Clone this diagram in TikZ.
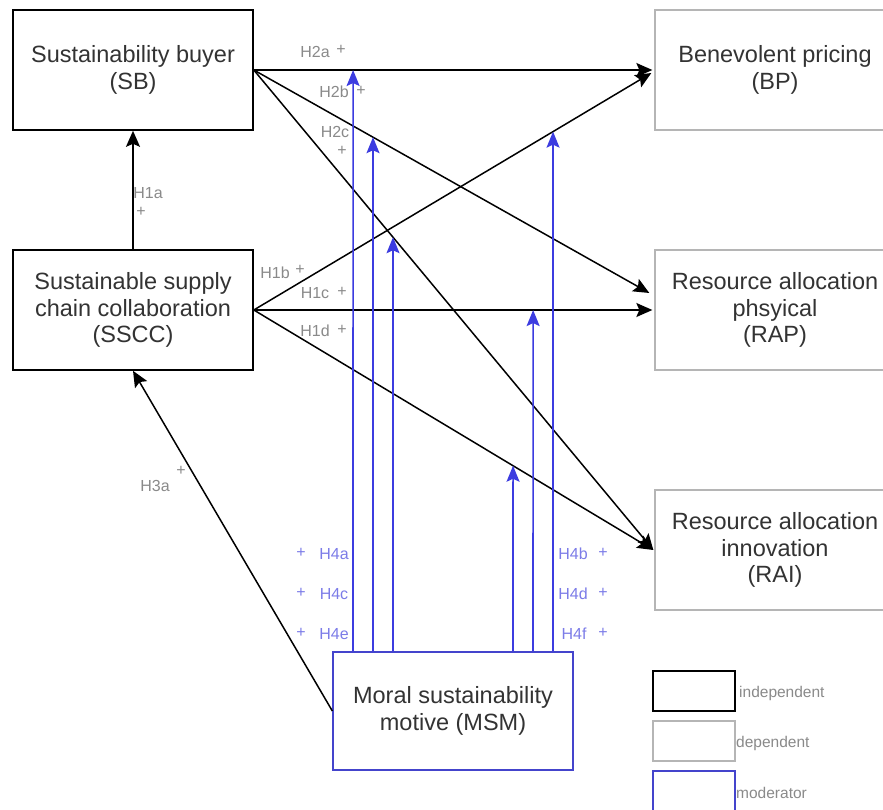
\documentclass[tikz,border=0pt]{standalone}
\usepackage{fontspec}
\setmainfont{Liberation Sans}
\usetikzlibrary{arrows.meta,calc}
\definecolor{txt}{HTML}{333333}
\definecolor{lblgray}{HTML}{8A8A8A}
\definecolor{depgray}{HTML}{B5B5B5}
\definecolor{modblue}{HTML}{3C3CE0}
\definecolor{boxblue}{HTML}{4444CC}
\definecolor{lblblue}{HTML}{7C7CE8}
\tikzset{
  box/.style={rectangle, minimum width=240pt, minimum height=120pt, align=center,
    font=\fontsize{23.5}{26.5}\selectfont, text=txt, inner sep=0pt},
  indep/.style={box, draw=black, line width=1.6pt},
  dep/.style={box, draw=depgray, line width=1.3pt},
  modbox/.style={box, draw=boxblue, line width=1.3pt, minimum height=118pt},
  arr/.style={draw=black, line width=1.5pt, -{Stealth[length=16pt,width=14pt,inset=3pt]}},
  barr/.style={draw=modblue, line width=1.6pt, -{Stealth[length=16pt,width=13pt,inset=3pt]}},
  lbl/.style={font=\fontsize{16}{18}\selectfont, text=lblgray, inner sep=0pt},
  pl/.style={font=\fontsize{16}{18}\selectfont, text=lblgray, inner sep=0pt},
  blbl/.style={font=\fontsize{16}{18}\selectfont, text=lblblue, inner sep=0pt},
  bpl/.style={font=\fontsize{16}{18}\selectfont, text=lblblue, inner sep=0pt},
  legbox/.style={rectangle, minimum width=82pt, minimum height=40pt, inner sep=0pt},
  legtxt/.style={font=\fontsize{15.5}{17}\selectfont, text=lblgray, anchor=west, inner sep=0pt}
}
\begin{document}
\begin{tikzpicture}[x=1pt,y=-1pt]
\useasboundingbox (0,0) rectangle (883,810);
\fill[white] (0,0) rectangle (883,810);

% main boxes
\node[indep] (SB) at (133,70) {Sustainability buyer\\(SB)};
\node[indep] (SSCC) at (133,310) {Sustainable supply\\chain collaboration\\(SSCC)};
\node[dep] (BP) at (775,70) {Benevolent pricing\\(BP)};
\node[dep] (RAP) at (775,310) {Resource allocation\\phsyical\\(RAP)};
\node[dep] (RAI) at (775,550) {Resource allocation\\innovation\\(RAI)};
\node[modbox] (MSM) at (453,711) {Moral sustainability\\motive (MSM)};

% end points
\coordinate (bpA) at ($(BP.west)+(-2,0)$);
\coordinate (bpB) at ($(BP.west)+(-3,3)$);
\coordinate (rapA) at ($(RAP.west)+(-5,-17)$);
\coordinate (rapB) at ($(RAP.west)+(-2,0)$);
\coordinate (raiA) at ($(RAI.west)+(-1,0)$);

% black connectors
\draw[arr] (SSCC.north) -- (SB.south);
\draw[arr] (SB.east) -- (bpA);
\draw[arr] (SB.east) -- (rapA);
\draw[arr] (SB.east) -- (raiA);
\draw[arr] (SSCC.east) -- (bpB);
\draw[arr] (SSCC.east) -- (rapB);
\draw[arr] (SSCC.east) -- (raiA);
\draw[arr] (MSM.west) -- (SSCC.south);

% moderator arrows
\coordinate (m1) at ($(MSM.north)+(-100,0)$);
\coordinate (m2) at ($(MSM.north)+(-80,0)$);
\coordinate (m3) at ($(MSM.north)+(-60,0)$);
\coordinate (m4) at ($(MSM.north)+(60,0)$);
\coordinate (m5) at ($(MSM.north)+(80,0)$);
\coordinate (m6) at ($(MSM.north)+(100,0)$);
\coordinate (t1) at (intersection of SB.east--bpA and m1--353,0);
\coordinate (t2) at (intersection of SB.east--rapA and m2--373,0);
\coordinate (t3) at (intersection of SB.east--raiA and m3--393,0);
\coordinate (t4) at (intersection of SSCC.east--raiA and m4--513,0);
\coordinate (t5) at (intersection of SSCC.east--rapB and m5--533,0);
\coordinate (t6) at (intersection of SSCC.east--bpB and m6--553,0);
\draw[barr] (m1) -- (t1);
\draw[barr] (m2) -- (t2);
\draw[barr] (m3) -- (t3);
\draw[barr] (m4) -- (t4);
\draw[barr] (m5) -- (t5);
\draw[barr] (m6) -- (t6);

% labels
\node[lbl] (l2a) at (315,52) {H2a};  \node[pl] (p2a) at (341,50) {+};
\node[lbl] (l2b) at (334,92) {H2b};  \node[pl] (p2b) at (361,91) {+};
\node[lbl] (l2c) at (335,132) {H2c}; \node[pl] (p2c) at (342,151) {+};
\node[lbl] (l1a) at (148,193) {H1a}; \node[pl] (p1a) at (141,212) {+};
\node[lbl] (l1b) at (275,273) {H1b}; \node[pl] (p1b) at (300,270) {+};
\node[lbl] (l1c) at (315,293) {H1c}; \node[pl] (p1c) at (342,292) {+};
\node[lbl] (l1d) at (315,331) {H1d}; \node[pl] (p1d) at (342,330) {+};
\node[lbl] (l3a) at (155,486) {H3a}; \node[pl] (p3a) at (181,471) {+};

\node[bpl] (q4a) at (301,553) {+}; \node[blbl] (l4a) at (334,554) {H4a};
\node[bpl] (q4c) at (301,593) {+}; \node[blbl] (l4c) at (334,594) {H4c};
\node[bpl] (q4e) at (301,633) {+}; \node[blbl] (l4e) at (334,634) {H4e};
\node[blbl] (l4b) at (573,554) {H4b}; \node[bpl] (q4b) at (603,553) {+};
\node[blbl] (l4d) at (573,594) {H4d}; \node[bpl] (q4d) at (603,593) {+};
\node[blbl] (l4f) at (574,634) {H4f}; \node[bpl] (q4f) at (603,633) {+};

% legend
\node[legbox, draw=black, line width=1.6pt] (lg1) at (694,691) {};
\node[legbox, draw=depgray, line width=1.3pt] (lg2) at (694,741) {};
\node[legbox, draw=boxblue, line width=1.3pt] (lg3) at (694,791) {};
\node[legtxt] (lt1) at (739,693) {independent};
\node[legtxt] (lt2) at (736,743) {dependent};
\node[legtxt] (lt3) at (736,793) {moderator};
\end{tikzpicture}
\end{document}
